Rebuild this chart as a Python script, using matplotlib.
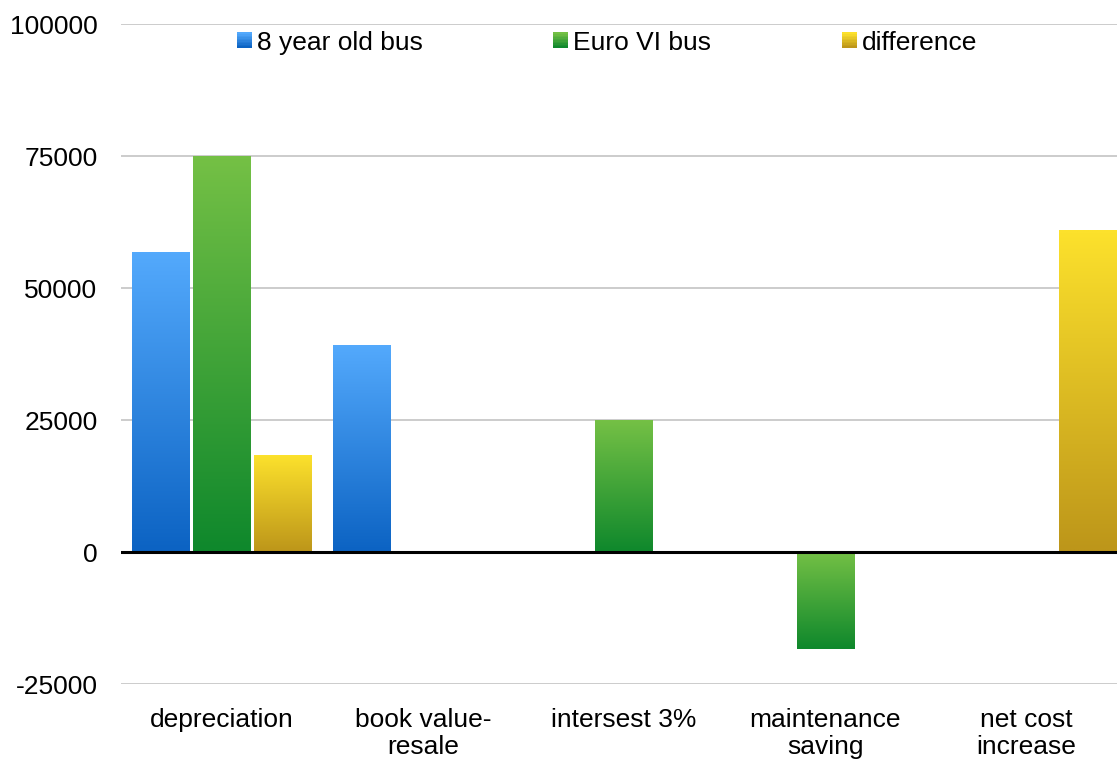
import numpy as np
import matplotlib.pyplot as plt
from matplotlib.colors import to_rgb
from matplotlib.legend_handler import HandlerBase
from matplotlib.patches import Rectangle

categories = ['depreciation', 'book value-\nresale', 'intersest 3%',
              'maintenance\nsaving', 'net cost\nincrease']
series_names = ['8 year old bus', 'Euro VI bus', 'difference']
old_bus = [56700, 39200, 0, 0, 0]
euro6_bus = [75000, 0, 25000, -18400, 0]
difference = [18200, 0, 0, 0, 60800]
y_ticks = [-25000, 0, 25000, 50000, 75000, 100000]

# gradient colours (top, bottom) per series
shades = [('#53a9fc', '#0c63c3'), ('#74c045', '#0f882c'), ('#fce12c', '#bd961a')]

plt.rcParams['font.family'] = ['Liberation Sans', 'DejaVu Sans']
FS = 19


def ramp(top, bottom, n=64):
    t = np.linspace(0, 1, n)[:, None]
    c = (1 - t) * np.array(to_rgb(top)) + t * np.array(to_rgb(bottom))
    return c[:, None, :]


class GradientHandler(HandlerBase):
    def __init__(self, top, bottom):
        super().__init__()
        self.top = top
        self.bottom = bottom

    def create_artists(self, legend, orig_handle, xdescent, ydescent,
                       width, height, fontsize, trans):
        n = 10
        arts = []
        cols = ramp(self.top, self.bottom, n)[:, 0, :]
        for i in range(n):
            # strip i counted from the top
            y = -ydescent + height * (n - 1 - i) / n
            r = Rectangle((-xdescent, y), width, height / n + 0.3,
                          facecolor=cols[i], edgecolor='none', transform=trans)
            arts.append(r)
        return arts


fig = plt.figure(figsize=(11.17, 7.6), dpi=100)
# plot area runs a little past the right edge of the picture
ax = fig.add_axes([121 / 1117, 0.1, (1127 - 121) / 1117, 1 - 24 / 760 - 0.1])

x = np.arange(len(categories))
width = 0.284
step = 0.303
handles = []
for k, vals in enumerate([old_bus, euro6_bus, difference]):
    bars = ax.bar(x + (k - 1) * step, vals, width, facecolor='none',
                  edgecolor='none', label=series_names[k], zorder=2)
    handles.append(bars)
    top, bottom = shades[k]
    for rect in bars:
        h = rect.get_height()
        if h == 0:
            continue
        x0 = rect.get_x()
        y0 = rect.get_y()
        lo, hi = min(y0, y0 + h), max(y0, y0 + h)
        ax.imshow(ramp(top, bottom), extent=(x0, x0 + rect.get_width(), lo, hi),
                  aspect='auto', origin='upper', zorder=2, interpolation='bilinear')

ax.axhline(0, color='black', lw=2.2, zorder=3)
ax.set_xlim(-0.5, len(categories) - 0.5)
ax.set_ylim(-25000, 100000)
ax.set_yticks(y_ticks)
ax.set_yticklabels([str(v) for v in y_ticks], fontsize=FS)
ax.set_xticks(x)
ax.set_xticklabels(categories, fontsize=FS, linespacing=1.2)
ax.tick_params(length=0)
ax.tick_params(axis='y', pad=17)
ax.tick_params(axis='x', pad=17)
ax.yaxis.grid(True, color='#c4c4c4', lw=1.2)
ax.set_axisbelow(True)
for s in ax.spines.values():
    s.set_visible(False)

fig.legend(handles, series_names, loc='center',
           bbox_to_anchor=(607 / 1117, 1 - 43 / 760), ncol=3, frameon=False,
           fontsize=FS, handlelength=0.57, handleheight=0.53, handletextpad=0.19,
           columnspacing=4.95, borderpad=0,
           handler_map={h: GradientHandler(*shades[i]) for i, h in enumerate(handles)})

fig.savefig('out.png', dpi=100)
